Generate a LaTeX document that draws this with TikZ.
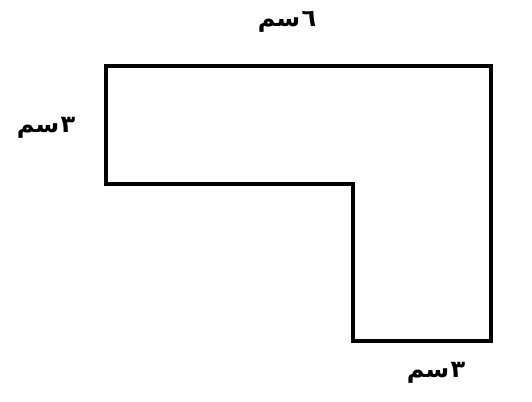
\documentclass[tikz,border=0pt]{standalone}
\usepackage{fontspec}
\newfontfamily\arabicfont[Script=Arabic]{DejaVu Sans}
\TeXXeTstate=1
\begin{document}
\begin{tikzpicture}[x=0.75pt,y=-0.75pt,
  outline/.style={draw=black,line width=3pt,line join=miter},
  lbl/.style={font=\arabicfont\bfseries\fontsize{18}{21}\selectfont,inner sep=0pt}]
\useasboundingbox (0,0) rectangle (532,401);
\coordinate (A) at (106,66);
\coordinate (B) at (491,66);
\coordinate (C) at (491,341);
\coordinate (D) at (353,341);
\coordinate (E) at (353,184);
\coordinate (F) at (106,184);
\draw[outline] (A) -- (B) -- (C) -- (D) -- (E) -- (F) -- cycle;
\node[lbl] (top) at (287,22) {\beginR ٦\hspace{1pt}سم\endR};
\node[lbl] (left) at (46,128) {\beginR ٣\hspace{1pt}سم\endR};
\node[lbl] (bottom) at (436,373) {\beginR ٣\hspace{1pt}سم\endR};
\end{tikzpicture}
\end{document}
